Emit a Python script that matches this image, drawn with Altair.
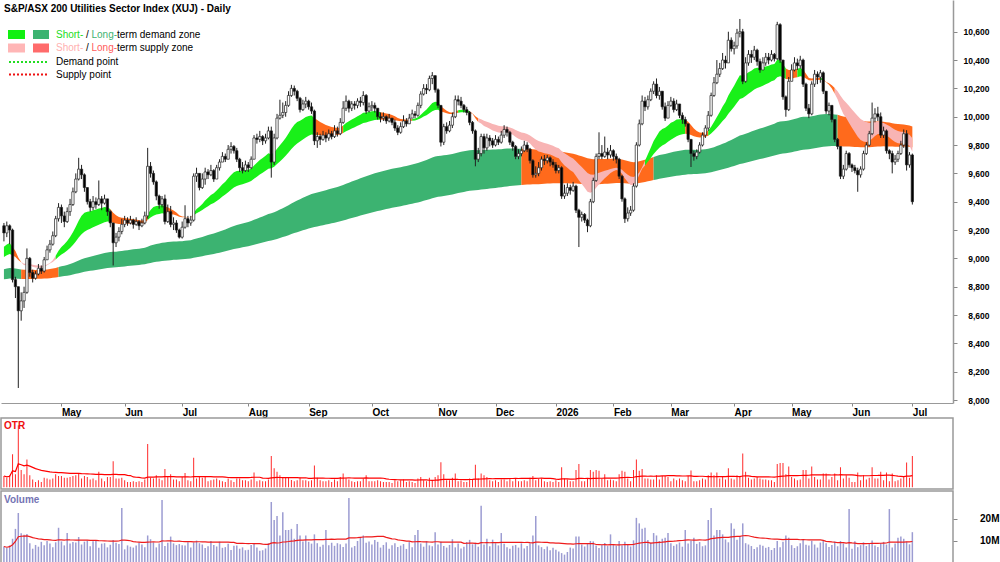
import json
import altair as alt
import numpy as np
import pandas as pd

# ---------------- data ----------------
open_first = 9230

close = [
    # Apr 2025 (from 31 Mar)
    9180, 9230, 9200, 8850, 8800, 8630, 8700, 8760, 9000, 8900, 8860, 8890, 8930, 8910, 8990, 9060, 9100, 9160, 9280, 9360,
    # May
    9300, 9260, 9330, 9380, 9470, 9560, 9630, 9590, 9500, 9400, 9360, 9400, 9380, 9420, 9390, 9420, 9330, 9250, 9110, 9150, 9190, 9240,
    # Jun
    9270, 9250, 9270, 9240, 9260, 9230, 9250, 9300, 9650, 9600, 9540, 9440, 9380, 9420, 9260, 9330, 9240, 9250, 9200, 9150,
    # Jul
    9220, 9280, 9250, 9270, 9580, 9600, 9500, 9560, 9610, 9590, 9620, 9560, 9640, 9680, 9720, 9700, 9770, 9790, 9760, 9700, 9640, 9620, 9660,
    # Aug
    9640, 9700, 9850, 9840, 9860, 9830, 9850, 9900, 9680, 9850, 9990, 10010, 10030, 10080, 10150, 10200, 10180, 10130, 10050, 10090, 10110,
    # Sep
    10070, 10040, 9830, 9860, 9840, 9870, 9850, 9880, 9860, 9900, 9880, 9960, 10060, 10110, 10060, 10090, 10080, 10110, 10100, 10150, 10040, 10070,
    # Oct
    10080, 10060, 10000, 9990, 10000, 9970, 9990, 9960, 9920, 9890, 9930, 9970, 9950, 9990, 10020, 10010, 10080, 10160, 10200, 10190, 10270, 10290, 10190,
    # Nov
    10080, 9820, 9930, 9900, 9940, 10000, 10120, 10110, 10080, 10050, 10030, 9960, 9900, 9700, 9740, 9860, 9780, 9850, 9830, 9800,
    # Dec
    9840, 9820, 9870, 9910, 9890, 9820, 9790, 9720, 9740, 9760, 9800, 9770, 9690, 9590, 9600, 9640, 9700, 9690, 9710, 9680, 9660,
    # Jan 2026
    9620, 9640, 9440, 9460, 9500, 9480, 9510, 9340, 9290, 9310, 9270, 9230, 9400, 9550, 9720, 9740, 9720, 9750, 9730, 9760,
    # Feb
    9720, 9700, 9580, 9420, 9280, 9320, 9340, 9510, 9800, 9950, 10110, 10070, 10120, 10180, 10230, 10150, 10180, 10070, 9990, 10080,
    # Mar
    10110, 10050, 10090, 10010, 9980, 9950, 9840, 9740, 9720, 9750, 9800, 9870, 9920, 10010, 10150, 10240, 10300, 10340, 10400, 10380, 10540, 10480,
    # Apr
    10500, 10590, 10600, 10250, 10380, 10440, 10420, 10470, 10390, 10330, 10380, 10420, 10400, 10440, 10410, 10650, 10400, 10140, 10050, 10250,
    # May
    10330, 10380, 10360, 10400, 10230, 10060, 10020, 10230, 10300, 10280, 10310, 10180, 10040, 10080, 9980, 9840, 9790, 9580, 9630, 9740, 9660,
    # Jun
    9640, 9620, 9590, 9630, 9740, 9800, 9880, 9990, 10020, 10000, 9870, 9900, 9760, 9740, 9680, 9700, 9740, 9800, 9880, 9660, 9730,
    # Jul
    9400,
]

high = [
    9250, 9260, 9240, 9210, 8870, 8800, 8760, 8800, 9070, 9010, 8920, 8910, 8960, 8950, 9010, 9090, 9130, 9190, 9300, 9390,
    9380, 9330, 9360, 9420, 9500, 9600, 9710, 9660, 9600, 9500, 9420, 9440, 9430, 9550, 9440, 9450, 9420, 9340, 9250, 9180, 9220, 9280,
    9300, 9290, 9300, 9280, 9290, 9270, 9280, 9330, 9780, 9680, 9620, 9550, 9450, 9440, 9450, 9380, 9370, 9290, 9270, 9210,
    9260, 9375, 9300, 9300, 9600, 9640, 9600, 9600, 9640, 9630, 9660, 9630, 9660, 9700, 9750, 9740, 9800, 9820, 9800, 9780, 9710, 9680, 9690,
    9680, 9720, 9870, 9880, 9900, 9870, 9880, 9930, 9930, 9880, 10020, 10120, 10100, 10110, 10180, 10225, 10220, 10190, 10140, 10120, 10140,
    10120, 10100, 10050, 9890, 9880, 9900, 9890, 9910, 9900, 9940, 9930, 9990, 10110, 10150, 10120, 10110, 10110, 10130, 10140, 10180, 10160, 10100,
    10110, 10100, 10060, 10030, 10030, 10010, 10020, 9990, 9980, 9940, 9960, 10010, 9990, 10020, 10050, 10040, 10100, 10180, 10230, 10230, 10290, 10315, 10290,
    10200, 10080, 9950, 9960, 9970, 10030, 10150, 10150, 10140, 10090, 10070, 10040, 9970, 9910, 9780, 9880, 9880, 9880, 9870, 9850,
    9870, 9860, 9900, 9940, 9930, 9900, 9830, 9800, 9770, 9790, 9830, 9820, 9780, 9700, 9650, 9680, 9720, 9730, 9730, 9720, 9700,
    9680, 9660, 9650, 9520, 9530, 9520, 9540, 9520, 9350, 9330, 9320, 9280, 9420, 9570, 9740, 9890, 9800, 9860, 9780, 9800,
    9770, 9740, 9710, 9590, 9430, 9360, 9370, 9530, 9820, 9980, 10150, 10140, 10150, 10200, 10250, 10270, 10210, 10180, 10100, 10110,
    10140, 10130, 10120, 10080, 10030, 10000, 9950, 9840, 9760, 9770, 9820, 9890, 9940, 10040, 10170, 10280, 10400, 10380, 10450, 10430, 10600, 10560,
    10530, 10620, 10690, 10620, 10420, 10470, 10470, 10500, 10480, 10410, 10420, 10450, 10450, 10470, 10450, 10670, 10660, 10400, 10150, 10280,
    10370, 10420, 10410, 10430, 10410, 10240, 10090, 10250, 10330, 10320, 10330, 10320, 10180, 10100, 10060, 9980, 9850, 9790, 9660, 9760, 9750,
    9670, 9660, 9640, 9650, 9760, 9820, 9900, 10100, 10060, 10070, 10030, 9930, 9910, 9770, 9760, 9730, 9760, 9830, 9910, 9905, 9750,
    9740,
]

low = [
    9120, 9150, 9100, 8830, 8720, 8085, 8560, 8650, 8750, 8870, 8830, 8850, 8880, 8890, 8900, 8990, 9040, 9090, 9150, 9260,
    9250, 9220, 9250, 9300, 9370, 9460, 9550, 9560, 9470, 9380, 9330, 9340, 9350, 9370, 9340, 9380, 9300, 9220, 8950, 9080, 9120, 9170,
    9220, 9230, 9240, 9210, 9230, 9200, 9220, 9240, 9280, 9570, 9520, 9410, 9350, 9360, 9240, 9250, 9220, 9200, 9180, 9140,
    9140, 9210, 9220, 9230, 9260, 9540, 9480, 9490, 9520, 9560, 9580, 9540, 9560, 9620, 9680, 9680, 9700, 9740, 9740, 9680, 9610, 9600, 9610,
    9610, 9630, 9700, 9810, 9820, 9800, 9810, 9840, 9570, 9660, 9840, 9980, 9990, 10000, 10070, 10140, 10150, 10110, 10030, 10040, 10060,
    10050, 10020, 9800, 9780, 9800, 9830, 9820, 9830, 9840, 9850, 9860, 9870, 9950, 10040, 10030, 10040, 10050, 10060, 10070, 10080, 10020, 10030,
    10040, 10030, 9980, 9960, 9970, 9950, 9960, 9940, 9900, 9870, 9880, 9920, 9930, 9950, 9990, 9990, 10000, 10060, 10150, 10160, 10180, 10230, 10170,
    10060, 9790, 9800, 9880, 9890, 9920, 9990, 10080, 10060, 10030, 10010, 9940, 9880, 9650, 9680, 9720, 9740, 9760, 9790, 9780,
    9790, 9800, 9810, 9850, 9860, 9800, 9760, 9700, 9700, 9720, 9750, 9750, 9670, 9570, 9570, 9580, 9620, 9660, 9670, 9650, 9640,
    9600, 9600, 9420, 9420, 9440, 9450, 9470, 9320, 9080, 9260, 9250, 9185, 9220, 9390, 9540, 9700, 9700, 9710, 9700, 9710,
    9690, 9670, 9560, 9400, 9250, 9260, 9300, 9330, 9500, 9790, 9940, 10040, 10050, 10110, 10160, 10130, 10120, 10050, 9970, 9990,
    10070, 10030, 10040, 9990, 9950, 9930, 9820, 9645, 9690, 9700, 9740, 9790, 9850, 9900, 10000, 10140, 10230, 10280, 10330, 10340, 10380, 10460,
    10440, 10480, 10560, 10230, 10240, 10360, 10380, 10400, 10360, 10310, 10330, 10360, 10370, 10390, 10390, 10400, 10380, 10120, 10000, 10040,
    10280, 10320, 10330, 10340, 10210, 10040, 9990, 10010, 10210, 10230, 10240, 10160, 10020, 10010, 9960, 9820, 9770, 9560, 9560, 9620, 9640,
    9610, 9600, 9470, 9570, 9620, 9730, 9790, 9870, 9960, 9970, 9850, 9850, 9740, 9700, 9600, 9660, 9680, 9730, 9780, 9620, 9640,
    9380,
]

volume_m = [
    7.5, 6.8, 8.0, 11.0, 15.5, 22.7, 13.5, 12.8, 13.2, 9.0, 6.5, 8.2, 7.4, 9.6, 8.1, 10.0, 8.8, 7.2, 9.4, 16.0,
    9.8, 8.0, 13.6, 8.9, 9.5, 9.3, 11.8, 8.4, 9.7, 10.2, 7.6, 9.9, 10.4, 6.9, 8.8, 9.0, 7.1, 8.3, 10.5, 9.2, 8.6, 25.0,
    6.2, 8.0, 7.4, 7.0, 7.9, 9.3, 8.4, 7.2, 12.5, 10.8, 9.4, 7.1, 8.8, 28.6, 7.7, 9.2, 12.0, 8.9, 8.1, 8.6,
    8.1, 8.0, 9.4, 7.0, 9.3, 10.2, 9.0, 8.4, 6.8, 7.6, 10.0, 8.2, 7.5, 9.7, 6.9, 7.2, 8.7, 5.9, 7.8, 8.0, 6.5, 7.1, 5.8,
    6.0, 8.2, 8.9, 7.0, 5.6, 5.8, 6.6, 9.0, 27.7, 19.5, 21.4, 12.5, 23.0, 15.0, 15.0, 15.5, 11.0, 17.7, 12.5, 9.8, 12.5,
    9.6, 8.8, 13.0, 9.0, 7.4, 8.3, 15.0, 8.1, 9.2, 7.8, 9.0, 8.5, 7.3, 8.9, 29.5, 7.0, 7.7, 10.0, 11.5, 12.5, 9.2, 9.8,
    8.4, 10.5, 9.6, 7.0, 8.2, 9.4, 6.5, 8.1, 9.0, 7.3, 7.9, 8.6, 6.4, 9.5, 7.2, 12.7, 15.0, 8.8, 7.4, 9.9, 8.0, 7.6, 14.0,
    8.4, 9.6, 7.7, 7.0, 8.2, 10.8, 7.1, 8.9, 6.6, 7.4, 9.5, 10.5, 8.5, 9.2, 7.4, 26.0, 8.4, 11.0, 7.6, 10.6,
    9.0, 8.0, 13.6, 8.7, 7.2, 6.5, 7.8, 8.2, 7.0, 8.9, 6.6, 7.7, 9.0, 12.5, 21.4, 8.0, 7.2, 6.3, 7.5, 5.8, 6.9,
    6.0, 5.2, 4.5, 3.8, 5.0, 7.0, 6.6, 12.0, 12.0, 8.4, 7.5, 8.8, 10.0, 9.8, 7.9, 6.8, 8.3, 9.1, 7.7, 13.0,
    8.6, 7.8, 10.0, 8.1, 9.7, 8.3, 7.5, 10.3, 20.5, 18.0, 15.5, 16.0, 10.4, 9.2, 13.6, 12.5, 10.0, 11.0, 11.5, 13.6,
    9.0, 7.8, 8.5, 9.3, 7.4, 15.0, 8.8, 10.2, 11.5, 8.7, 9.5, 7.6, 8.0, 19.5, 25.0, 12.5, 15.0, 15.0, 13.0, 10.7, 9.4, 18.0,
    15.5, 10.6, 12.0, 18.0, 9.0, 8.4, 7.7, 6.4, 7.1, 8.3, 7.8, 6.9, 7.3, 5.9, 6.8, 10.0, 7.2, 9.7, 12.5, 11.5,
    8.1, 6.8, 7.6, 9.0, 10.5, 8.3, 7.9, 10.1, 8.4, 7.0, 9.3, 10.2, 9.0, 7.3, 8.2, 9.8, 7.6, 10.0, 8.9, 7.0, 24.5,
    6.5, 9.9, 7.2, 8.1, 9.4, 7.7, 8.9, 10.2, 8.0, 7.3, 9.0, 9.6, 8.4, 24.5, 7.0, 8.8, 11.5, 12.0, 11.0, 9.7, 8.5,
    14.0,
]

# starting levels of the trend ribbons at the left edge
short_seed = [9070, 9000]
long_seed = [8920, 8850]

holidays = ["2025-04-18", "2025-04-21", "2025-04-25", "2025-06-09", "2025-12-25",
            "2025-12-26", "2026-01-01", "2026-01-26", "2026-04-03", "2026-04-06", "2026-06-08"]

price_ticks = list(range(8000, 10601, 200))

# ---------------- build frames ----------------
n = min(len(close), len(high), len(low), len(volume_m))
close = close[:n]; high = high[:n]; low = low[:n]; volume_m = volume_m[:n]
dates = pd.bdate_range("2025-03-31", "2026-08-31")
dates = dates[~dates.isin(pd.to_datetime(holidays))][:n]

opens = [open_first] + close[:-1]
hi = np.maximum.reduce([np.array(high), np.array(opens), np.array(close)])
lo = np.minimum.reduce([np.array(low), np.array(opens), np.array(close)])
idx = np.arange(n)

df = pd.DataFrame(dict(i=idx, open=opens, high=hi, low=lo, close=close, vol=volume_m))
prev_c = np.array(opens)
df["tr"] = np.maximum(df["high"].values, prev_c) - np.minimum(df["low"].values, prev_c)
df["tr_ma"] = df["tr"].rolling(40, min_periods=1).mean()
df["vol_ma"] = df["vol"].rolling(40, min_periods=1).mean()


def ema(vals, span, seed):
    a = 2.0 / (span + 1)
    e = seed
    out = []
    for v in vals:
        e = e + a * (v - e)
        out.append(e)
    return np.array(out)


def slope(series, seed, lag):
    ext = np.r_[[seed] * lag, series]
    return ext[lag:] - ext[:-lag]


def short_states(fast, slow, seeds):
    d_f = slope(fast, seeds[0], 3)
    d_s = slope(slow, seeds[1], 5)
    out = []
    pink = False
    for k in range(len(fast)):
        if d_s[k] < -40:
            pink = True
        elif d_s[k] > 25 and fast[k] > slow[k] + 20:
            pink = False
        if pink:
            out.append("supply")
        elif d_f[k] < 0:
            out.append("mixed")
        else:
            out.append("demand")
    return np.array(out)


def long_states(fast, seed):
    d5 = slope(fast, seed, 5)
    d10 = slope(fast, seed, 10)
    out = []
    down = False
    for k in range(len(fast)):
        if d5[k] < 0:
            down = True
        elif d10[k] > 15:
            down = False
        out.append("mixed" if down else "demand")
    return np.array(out)


def band_frame(fast, slow, state, palette, kind):
    up = np.maximum(fast, slow)
    dn = np.minimum(fast, slow)
    rows = []
    seg = 0
    for k in range(len(up)):
        if k > 0 and state[k] != state[k - 1]:
            rows.append(dict(i=k, up=up[k], lo=dn[k], col=palette[state[k - 1]], seg=f"{kind}{seg}"))
            seg += 1
        rows.append(dict(i=k, up=up[k], lo=dn[k], col=palette[state[k]], seg=f"{kind}{seg}"))
    return pd.DataFrame(rows)


cl = np.array(close, dtype=float)
s_fast = ema(cl, 18, short_seed[0]); s_slow = ema(cl, 36, short_seed[1])
l_fast = ema(cl, 140, long_seed[0]); l_slow = ema(cl, 280, long_seed[1])

ORANGE = "#ff6a1c"
short_state = short_states(s_fast, s_slow, short_seed)
long_state = long_states(l_fast, long_seed[0])
short_df = band_frame(s_fast, s_slow, short_state,
                      {"demand": "#19f019", "supply": "#f8b4b4", "mixed": ORANGE}, "short")
long_df = band_frame(l_fast, l_slow, long_state,
                     {"demand": "#3cb371", "supply": ORANGE, "mixed": ORANGE}, "long")

month_starts = [k for k in range(5, n) if dates[k].month != dates[k - 1].month]
month_labels = ["2026" if dates[k].month == 1 else dates[k].strftime("%b") for k in month_starts]
label_expr = f"{json.dumps(month_labels)}[indexof({json.dumps(month_starts)}, datum.value)]"

# ---------------- chart ----------------
FONT = "Liberation Sans"
W = 952
x_scale = alt.Scale(domain=[0.72, 328.4], nice=False, zero=False)
x_axis = alt.Axis(values=month_starts, labelExpr=label_expr, labelAlign="left", labelFontWeight="bold",
                  labelFontSize=10, labelColor="black", labelPadding=1, labelOverlap=False,
                  labelFlush=False, tickSize=3, tickColor="#888", domainColor="#999", grid=False,
                  title=None)
XE = alt.X("i:Q", scale=x_scale, axis=x_axis)
p_scale = alt.Scale(domain=[7979, 10824], nice=False, zero=False)
p_axis = alt.Axis(orient="right", values=price_ticks, format=",.0f", labelFontWeight="bold",
                  labelFontSize=8.5, labelColor="black", labelAlign="right", labelPadding=32,
                  tickSize=4, tickColor="#888", domainColor="#999", domainWidth=1.5, grid=False,
                  title=None)


def PY(field):
    return alt.Y(f"{field}:Q", scale=p_scale, axis=p_axis)


long_band = alt.Chart(long_df).mark_area(clip=True).encode(
    x=XE, y=PY("up"), y2="lo:Q", color=alt.Color("col:N", scale=None), detail="seg:N")
short_band = alt.Chart(short_df).mark_area(clip=True).encode(
    x=XE, y=PY("up"), y2="lo:Q", color=alt.Color("col:N", scale=None), detail="seg:N")
wicks = alt.Chart(df).mark_rule(color="#222", strokeWidth=1, clip=True).encode(
    x=XE, y=PY("low"), y2="high:Q")
bodies = alt.Chart(df).mark_bar(width=2.3, stroke="#222", strokeWidth=0.7, clip=True).encode(
    x=XE, y=PY("open"), y2="close:Q",
    fill=alt.condition("datum.close >= datum.open", alt.value("white"), alt.value("black")))


def label(txt, px, py, color="black", size=10, weight="normal"):
    return alt.Chart(pd.DataFrame({"t": [txt]})).mark_text(
        align="left", baseline="middle", font=FONT, fontSize=size, fontWeight=weight, color=color
    ).encode(text="t:N", x=alt.value(px), y=alt.value(py))


def swatch(x0, x1, y0, y1, color):
    return alt.Chart(pd.DataFrame({"t": [0]})).mark_rect(color=color).encode(
        x=alt.value(x0), x2=alt.value(x1), y=alt.value(y0), y2=alt.value(y1))


def dotted(y, color):
    return alt.Chart(pd.DataFrame({"t": [0]})).mark_rule(
        color=color, strokeWidth=2, strokeDash=[2, 2]).encode(
        x=alt.value(8), x2=alt.value(48), y=alt.value(y))


overlay = [
    label("S&P/ASX 200 Utilities Sector Index (XUJ) - Daily", 3, 8.5, weight="bold"),
    swatch(7, 24, 30, 39, "#11f011"), swatch(32, 48, 30, 39, "#3cb371"),
    label("Short-", 55, 34.5, "#22dd22"), label("/", 85, 34.5), label("Long-", 90.5, 34.5, "#3cb371"),
    label("term demand zone", 116, 34.5),
    swatch(7, 24, 43.5, 52.5, "#ffb6b6"), swatch(32, 48, 43.5, 52.5, "#ff6b6b"),
    label("Short-", 55, 48, "#ffb0b0"), label("/", 85, 48), label("Long-", 90.5, 48, "#ff5c5c"),
    label("term supply zone", 116, 48),
    dotted(62, "#22dd22"), label("Demand point", 55, 62),
    dotted(74.5, "#ee1111"), label("Supply point", 55, 74.5),
]

main = alt.layer(long_band, short_band, wicks, bodies, *overlay).properties(width=W, height=403)

XN = alt.X("i:Q", scale=x_scale, axis=None)
otr_scale = alt.Scale(domain=[-20, 800], nice=False, zero=False)
otr_bars = alt.Chart(df).mark_bar(width=1, color="#ff2a2a", clip=True).encode(
    x=XN, y=alt.Y("tr:Q", scale=otr_scale, axis=None), y2=alt.datum(0))
otr_line = alt.Chart(df).mark_line(color="#ff0000", strokeWidth=1.2, clip=True).encode(
    x=XN, y=alt.Y("tr_ma:Q", scale=otr_scale, axis=None))
otr = alt.layer(otr_bars, otr_line, label("OTR", 3, 8, "#ee1111", weight="bold")).properties(
    width=W, height=71, view=alt.ViewBackground(stroke="#999", strokeWidth=1.5))

v_scale = alt.Scale(domain=[0, 32.7], nice=False, zero=False)
v_axis = alt.Axis(orient="right", values=[10, 20], labelExpr="datum.value + 'M'", labelFontWeight="bold",
                  labelFontSize=10, labelColor="black", labelAlign="right", labelPadding=42,
                  tickSize=4, tickColor="#888", domain=False, grid=False, title=None)
vol_bars = alt.Chart(df).mark_bar(width=1.5, color="#9c9cd2", clip=True).encode(
    x=XN, y=alt.Y("vol:Q", scale=v_scale, axis=v_axis))
vol_line = alt.Chart(df).mark_line(color="#ee1c1c", strokeWidth=1.2, clip=True).encode(
    x=XN, y=alt.Y("vol_ma:Q", scale=v_scale, axis=v_axis))
vol = alt.layer(vol_bars, vol_line, label("Volume", 3, 9, "#7474b4", weight="bold")).properties(
    width=W, height=72, view=alt.ViewBackground(stroke="#999", strokeWidth=1.5))

chart = alt.vconcat(main, otr, vol, spacing=0).properties(
    padding={"left": 0, "top": 0, "right": 0, "bottom": 0}, background="white"
).configure(font=FONT).configure_view(stroke=None)

chart.save("out.html", embed_options={"renderer": "svg", "actions": False})
